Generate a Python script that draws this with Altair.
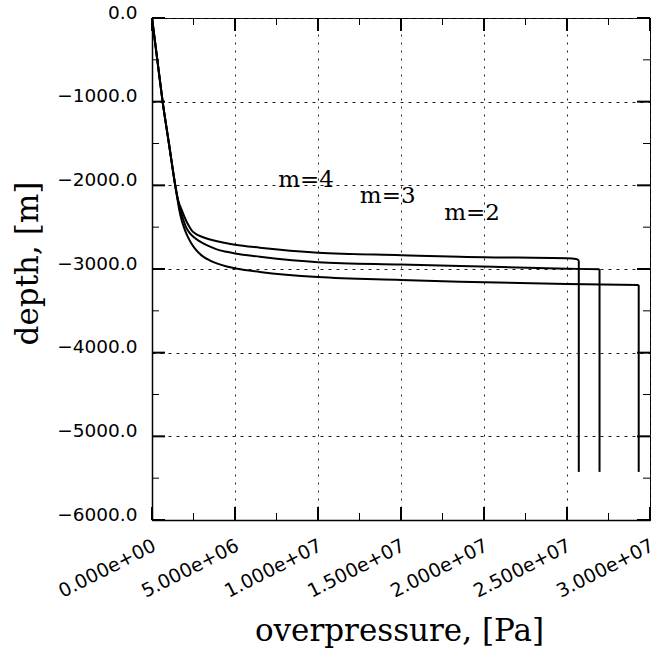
import altair as alt
import pandas as pd

# ---- data (pressure in units of 1e6 Pa, depth in m) ----
series_names = ["m=4", "m=3", "m=2"]

m4_p = [0, 0.32, 0.64, 1.02, 1.40, 1.58, 1.80, 2.05, 2.25, 2.40, 2.60, 3.0, 3.5, 4.0, 4.5, 5.0, 6.5, 10.0, 15.0, 18.55, 20.0, 25.0, 25.55, 25.71]
m4_d = [0, -500, -1000, -1500, -2000, -2180, -2300, -2420, -2495, -2540, -2575, -2615, -2648, -2672, -2693, -2710, -2745, -2805, -2835, -2854, -2859, -2872, -2880, -2897]

m3_p = [0, 0.32, 0.64, 1.02, 1.40, 1.56, 1.72, 1.90, 2.05, 2.25, 2.49, 2.80, 3.09, 3.5, 3.9, 4.5, 5.0, 6.5, 10.0, 15.0, 18.55, 25.0, 26.96]
m3_d = [0, -500, -1000, -1500, -2000, -2180, -2300, -2420, -2500, -2565, -2614, -2660, -2693, -2733, -2765, -2795, -2815, -2853, -2918, -2946, -2964, -2996, -3003]

m2_p = [0, 0.32, 0.64, 1.02, 1.40, 1.53, 1.65, 1.78, 1.92, 2.13, 2.33, 2.6, 3.0, 3.5, 3.9, 4.5, 5.14, 6.5, 10.0, 15.0, 18.55, 25.0, 29.32]
m2_d = [0, -500, -1000, -1500, -2000, -2160, -2300, -2410, -2500, -2605, -2680, -2760, -2840, -2900, -2933, -2970, -2998, -3035, -3097, -3131, -3152, -3179, -3191]

bottom_depth = -5425   # all three curves drop vertically to this depth at their last pressure

label_p = [9.28, 14.2, 19.28]
label_d = [-1936, -2127, -2331]

x_major = [0, 5e6, 1e7, 1.5e7, 2e7, 2.5e7, 3e7]
x_tick_labels = ["0.000e+00", "5.000e+06", "1.000e+07", "1.500e+07", "2.000e+07", "2.500e+07", "3.000e+07"]
x_minor = [2.5e6, 7.5e6, 1.25e7, 1.75e7, 2.25e7, 2.75e7]
y_major = [0, -1000, -2000, -3000, -4000, -5000, -6000]
y_minor = [-500, -1500, -2500, -3500, -4500, -5500]

# ---- tables ----
rows, drops = [], []
for name, ps, ds in zip(series_names, [m4_p, m3_p, m2_p], [m4_d, m3_d, m2_d]):
    for i, (p, d) in enumerate(zip(ps, ds)):
        rows.append({"m": name, "i": i, "p": p * 1e6, "d": d})
    drops.append({"m": name, "p": ps[-1] * 1e6, "d": ds[-1], "d2": bottom_depth})
df = pd.DataFrame(rows)
drop_df = pd.DataFrame(drops)
lab_df = pd.DataFrame({"m": series_names, "p": [v * 1e6 for v in label_p], "d": label_d})

W, H = 498, 502
xs = alt.Scale(domain=[0, 3e7], nice=False, zero=False)
ys = alt.Scale(domain=[-6000, 0], nice=False, zero=False)

label_expr = " : ".join(
    f"abs(datum.value - {v}) < 1 ? '{t}'" for v, t in zip(x_major, x_tick_labels)
) + " : ''"

x_axis = alt.Axis(
    values=x_major, labelExpr=label_expr, labelAngle=333, labelAlign="right",
    labelBaseline="top", labelPadding=16, labelFont="DejaVu Sans", labelFontSize=19,
    labelColor="black", labelFlush=False, labelOverlap=False, labelBound=False,
    labelOffset=-2,
    ticks=False, domain=True, domainColor="black", domainWidth=1.5,
    grid=True, gridColor="#222222", gridDash=[2, 6], gridWidth=1,
    title="overpressure, [Pa]", titleFont="DejaVu Serif", titleFontSize=31,
    titleFontWeight="normal", titleColor="black", titleX=247, titleY=120,
    titleAlign="center", titleBaseline="alphabetic",
)
y_axis = alt.Axis(
    values=y_major, format=".1f", labelFont="DejaVu Sans", labelFontSize=18.5,
    labelColor="black", labelPadding=15, labelBaseline="alphabetic", labelAlign="right",
    labelFlush=False, labelOverlap=False, labelBound=False,
    ticks=False, domain=True, domainColor="black", domainWidth=1.5,
    grid=True, gridColor="#222222", gridDash=[3, 5], gridWidth=1,
    title="depth, [m]", titleFont="DejaVu Serif", titleFontSize=31,
    titleFontWeight="normal", titleColor="black", titleAngle=270,
    titleX=-124, titleY=245, titleAlign="center", titleBaseline="middle",
)

X = lambda **kw: alt.X("p:Q", scale=xs, title="overpressure, [Pa]", **kw)
Y = lambda **kw: alt.Y("d:Q", scale=ys, title="depth, [m]", **kw)

lines = alt.Chart(df).mark_line(color="black", strokeWidth=2, interpolate="monotone").encode(
    x=X(axis=x_axis),
    y=Y(axis=y_axis),
    detail="m:N",
    order="i:Q",
)

drop_lines = alt.Chart(drop_df).mark_rule(color="black", strokeWidth=2).encode(
    x=X(), y=Y(), y2="d2:Q",
)

texts = alt.Chart(lab_df).mark_text(
    font="DejaVu Serif", fontSize=23, color="black", align="center", baseline="middle"
).encode(x=X(), y=Y(), text="m:N")

xmaj = pd.DataFrame({"p": x_major})
xmin = pd.DataFrame({"p": x_minor})
ymaj = pd.DataFrame({"d": y_major})
ymin = pd.DataFrame({"d": y_minor})

def xticks(data, length, width, top):
    y0 = 0 if top else H
    y1 = length if top else H - length
    return alt.Chart(data).mark_rule(color="black", strokeWidth=width).encode(
        x=X(), y=alt.value(y0), y2=alt.value(y1)
    )

def yticks(data, length, width, right):
    x0 = W if right else 0
    x1 = W - length if right else length
    return alt.Chart(data).mark_rule(color="black", strokeWidth=width).encode(
        y=Y(), x=alt.value(x0), x2=alt.value(x1)
    )

tick_layers = [
    xticks(xmaj, 13, 2, False), xticks(xmaj, 13, 2, True),
    xticks(xmin, 7, 1, False), xticks(xmin, 7, 1, True),
    yticks(ymaj, 13, 2, False), yticks(ymaj, 13, 2, True),
    yticks(ymin, 7, 1, False), yticks(ymin, 7, 1, True),
]

chart = alt.layer(lines, drop_lines, texts, *tick_layers).properties(
    width=W, height=H,
    padding={"left": 152, "top": 18, "right": 14, "bottom": 129},
    autosize="none",
    background="white",
).configure_view(stroke="black", strokeWidth=1)

chart.save("out.html", embed_options={"renderer": "svg", "actions": False})
